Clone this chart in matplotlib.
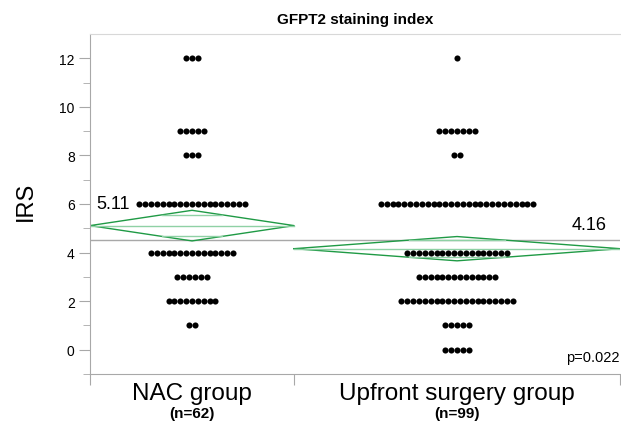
import numpy as np
import matplotlib.pyplot as plt

plt.rcParams['font.family'] = ['Liberation Sans', 'DejaVu Sans']

# IRS score counts per group, read from the dot rows
irs_levels = [12, 9, 8, 6, 4, 3, 2, 1, 0]
nac_counts = [3, 5, 3, 19, 15, 6, 9, 2, 0]
upfront_counts = [1, 7, 2, 27, 18, 14, 20, 5, 5]

group_names = ['NAC group', 'Upfront surgery group']
group_n = ['(n=62)', '(n=99)']
group_means = [5.11, 4.16]
ci_half = [0.63, 0.50]
grand_mean = 4.53
p_text = 'p=0.022'

green = '#1f9a45'
light_green = '#8fd1a5'
gray = '#a8a8a8'

fig = plt.figure(figsize=(6.21, 4.35), dpi=100)
ax = fig.add_axes([90 / 621, 60 / 435, 530 / 621, 340 / 435])

sizes = [sum(nac_counts), sum(upfront_counts)]
edges = np.concatenate([[0], np.cumsum(sizes)])
total = edges[-1]
spacing = 1.78

# grand mean line
ax.axhline(grand_mean, color=gray, lw=1, zorder=1)

for g, counts in enumerate([nac_counts, upfront_counts]):
    lo, hi = edges[g], edges[g + 1]
    cx = (lo + hi) / 2
    # dots stacked side by side
    for lvl, c in zip(irs_levels, counts):
        if c == 0:
            continue
        xs = cx + (np.arange(c) - (c - 1) / 2) * spacing
        ax.plot(xs, [lvl] * c, 'o', color='black', ms=4.4, mew=0, zorder=3)
    # means diamond
    m, h = group_means[g], ci_half[g]
    ax.plot([lo, cx, hi, cx, lo], [m, m + h, m, m - h, m], color=green, lw=1, zorder=2)
    ax.plot([lo, hi], [m, m], color=light_green, lw=1, zorder=2)
    ov = h / np.sqrt(2)
    frac = (1 - ov / h) * (hi - lo) / 2
    for y in (m + ov, m - ov):
        ax.plot([cx - frac, cx + frac], [y, y], color=light_green, lw=1, zorder=2)

ax.text(2, 6.02, '%.2f' % group_means[0], fontsize=13, ha='left', va='center')
ax.text(157, 5.15, '%.2f' % group_means[1], fontsize=13, ha='right', va='center')
ax.text(total, -0.3, p_text, fontsize=10.5, ha='right', va='center')

ax.set_xlim(0, total)
ax.set_ylim(-1, 13)
ax.set_yticks(range(0, 13, 2))
ax.set_yticks(range(-1, 13, 2), minor=True)
ax.set_xticks(edges)
ax.set_xticklabels([])
ax.tick_params(axis='y', which='major', length=8, color=gray, labelsize=10, pad=3)
ax.tick_params(axis='y', which='minor', length=5, color=gray)
ax.tick_params(axis='x', length=8, color=gray)

for side in ['left', 'bottom', 'top']:
    ax.spines[side].set_color(gray)
ax.spines['top'].set_color('#d8d8d8')
ax.spines['right'].set_visible(False)

ax.set_ylabel('IRS', fontsize=17, labelpad=16)
ax.yaxis.label.set_y(0.51)
ax.set_title('GFPT2 staining index', fontsize=11, fontweight='bold', pad=8)

for g in range(2):
    cx = (edges[g] + edges[g + 1]) / 2
    ax.text(cx, -1 - 25 / 24.29, group_names[g], fontsize=17.5, ha='center',
            va='baseline', clip_on=False)
    ax.text(cx, -1 - 32 / 24.29, group_n[g], fontsize=11, fontweight='bold',
            ha='center', va='top', clip_on=False)

fig.savefig('out.png', dpi=100)
